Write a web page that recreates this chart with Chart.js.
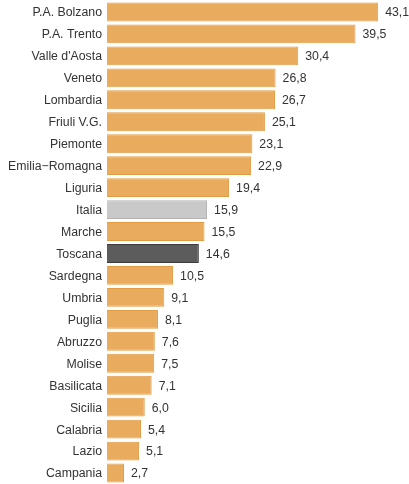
<!DOCTYPE html>
<html>
<head>
<meta charset="utf-8">
<script src="https://cdn.jsdelivr.net/npm/chart.js@4/dist/chart.umd.min.js"></script>
<style>
  html, body { margin: 0; padding: 0; background: #fff; }
  canvas { display: block; }
</style>
</head>
<body>
<canvas id="regionChart" width="409" height="484"></canvas>
<script>
const regions = ['P.A. Bolzano', 'P.A. Trento', "Valle d'Aosta", 'Veneto', 'Lombardia', 'Friuli V.G.',
  'Piemonte', 'Emilia\u2212Romagna', 'Liguria', 'Italia', 'Marche', 'Toscana', 'Sardegna', 'Umbria',
  'Puglia', 'Abruzzo', 'Molise', 'Basilicata', 'Sicilia', 'Calabria', 'Lazio', 'Campania'];
const values = [43.1, 39.5, 30.4, 26.8, 26.7, 25.1, 23.1, 22.9, 19.4, 15.9, 15.5, 14.6,
  10.5, 9.1, 8.1, 7.6, 7.5, 7.1, 6.0, 5.4, 5.1, 2.7];

// Italia and Toscana get their own colours, everything else orange
const fillFor = name => name === 'Italia' ? '#c9c9c9' : name === 'Toscana' ? '#5c5c5c' : '#e9ab5e';
const edgeFor = name => name === 'Italia' ? '#b3b3b3' : name === 'Toscana' ? '#3c3c3c' : '#e29c44';

// writes the value (comma decimal) just right of each bar
const valueLabels = {
  id: 'valueLabels',
  afterDatasetsDraw(chart) {
    const ctx = chart.ctx;
    const meta = chart.getDatasetMeta(0);
    ctx.save();
    ctx.font = '12.3px "Liberation Sans", Arial, sans-serif';
    ctx.fillStyle = '#333';
    ctx.textAlign = 'left';
    ctx.textBaseline = 'middle';
    meta.data.forEach((bar, i) => {
      ctx.fillText(values[i].toFixed(1).replace('.', ','), bar.x + 7, bar.y + 1);
    });
    ctx.restore();
  }
};

new Chart(document.getElementById('regionChart').getContext('2d'), {
  type: 'bar',
  data: {
    labels: regions,
    datasets: [{
      data: values,
      backgroundColor: regions.map(fillFor),
      borderColor: regions.map(edgeFor),
      borderWidth: 1,
      categoryPercentage: 1,
      barPercentage: 0.86
    }]
  },
  options: {
    indexAxis: 'y',
    responsive: false,
    animation: false,
    layout: { padding: { top: 1, right: 0, bottom: 0, left: 0 } },
    plugins: { legend: { display: false }, tooltip: { enabled: false } },
    scales: {
      x: { display: false, min: 0, max: 48 },
      y: {
        grid: { display: false, drawTicks: false },
        border: { display: false },
        ticks: {
          color: '#333',
          padding: 5,
          labelOffset: 1,
          autoSkip: false,
          font: { family: '"Liberation Sans", Arial, sans-serif', size: 12.3 }
        },
        afterFit(scale) {
          scale.width = 107;
          scale.paddingTop = 0;
          scale.paddingBottom = 0;
        }
      }
    }
  },
  plugins: [valueLabels]
});
</script>
</body>
</html>
